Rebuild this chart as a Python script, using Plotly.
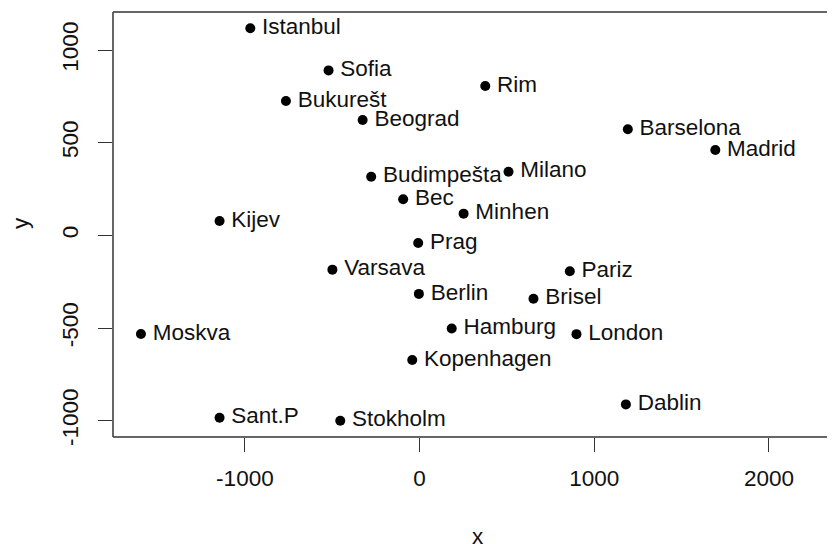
import plotly.graph_objects as go

cities = ["Istanbul", "Sofia", "Bukurešt", "Beograd", "Rim", "Barselona", "Madrid",
          "Milano", "Budimpešta", "Bec", "Minhen", "Kijev", "Prag", "Varsava", "Pariz",
          "Berlin", "Brisel", "Moskva", "Hamburg", "London", "Kopenhagen", "Dablin",
          "Sant.P", "Stokholm"]
x_vals = [-969, -521, -765, -326, 376, 1192, 1693,
          509, -277, -94, 252, -1145, -8, -499, 860,
          -4, 652, -1595, 184, 898, -42, 1181,
          -1145, -454]
y_vals = [1117, 890, 725, 622, 806, 572, 460,
          343, 316, 195, 117, 77, -41, -185, -194,
          -316, -342, -532, -503, -533, -673, -912,
          -984, -1000]
x_ticks = [-1000, 0, 1000, 2000]
x_tick_labels = ["-1000", "0", "1000", "2000"]
y_ticks = [-1000, -500, 0, 500, 1000]
y_tick_labels = ["-1000", "-500", "0", "500", "1000"]

FONT = "Liberation Sans, Arial, sans-serif"
AX = "#333333"

fig = go.Figure()
fig.add_trace(go.Scatter(
    x=x_vals, y=y_vals, mode="markers+text",
    text=["\u2009" + c for c in cities],
    textposition="middle right",
    textfont=dict(family=FONT, size=22.5, color="#111111"),
    marker=dict(size=10, color="black"),
    cliponaxis=False,
    showlegend=False,
))

# page body has an 8px margin; plot area spans window x 113..835, y 12..437
fig.update_layout(
    width=827, height=536,
    margin=dict(l=105, r=0, t=4, b=107),
    plot_bgcolor="white", paper_bgcolor="white",
    font=dict(family=FONT, size=22, color="#111111"),
    xaxis=dict(range=[-1755, 2378], tickvals=x_ticks, ticktext=x_tick_labels,
               ticks="outside", ticklen=14, automargin=False,
               tickcolor=AX, tickwidth=1.3, showgrid=False, zeroline=False,
               showline=False, tickfont=dict(size=22.5), ticklabelstandoff=7),
    yaxis=dict(range=[-1088, 1205], tickvals=y_ticks, ticktext=y_tick_labels,
               ticks="outside", ticklen=14, automargin=False,
               tickcolor=AX, tickwidth=1.3, showgrid=False, zeroline=False,
               showline=False, tickangle=-90, tickfont=dict(size=22.5), ticklabelstandoff=11),
    shapes=[
        dict(type="line", xref="paper", yref="paper", x0=0, x1=1, y0=1, y1=1,
             line=dict(color=AX, width=1.5)),
        dict(type="line", xref="paper", yref="paper", x0=0, x1=1, y0=0, y1=0,
             line=dict(color=AX, width=1.5)),
        dict(type="line", xref="paper", yref="paper", x0=0, x1=0, y0=0, y1=1,
             line=dict(color=AX, width=1.5)),
    ],
    annotations=[
        dict(text="x", xref="paper", yref="paper", x=0.5055, y=-0.233,
             showarrow=False, xanchor="center", yanchor="middle",
             font=dict(size=22.5, family=FONT)),
        dict(text="y", xref="paper", yref="paper", x=-0.1288, y=0.5035,
             showarrow=False, xanchor="center", yanchor="middle", textangle=-90,
             font=dict(size=22.5, family=FONT)),
    ],
)

fig.write_html("out.html")
